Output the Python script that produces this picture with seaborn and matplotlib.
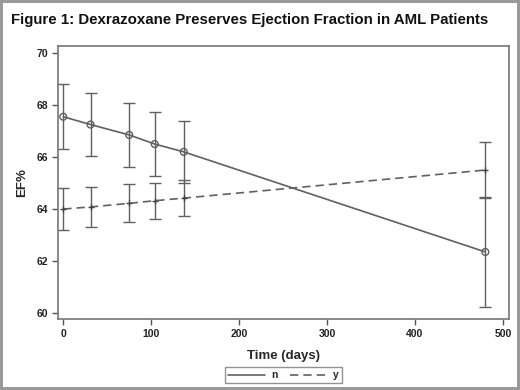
import matplotlib
matplotlib.use("Agg")
import matplotlib.pyplot as plt
import seaborn as sns
import pandas as pd
from matplotlib.lines import Line2D

sns.set_style("white")
plt.rcParams['font.family'] = ['Liberation Sans', 'DejaVu Sans']

days = [0, 31, 75, 104, 137, 480]
ef_n = [67.55, 67.25, 66.85, 66.5, 66.2, 62.35]
err_n = [1.25, 1.22, 1.22, 1.22, 1.2, 2.1]
ef_y = [64.0, 64.08, 64.22, 64.32, 64.42, 65.5]
err_y = [0.8, 0.77, 0.73, 0.7, 0.68, 1.08]
groups = ["n", "y"]

df = pd.DataFrame({
    "Time (days)": days * 2,
    "EF%": ef_n + ef_y,
    "err": err_n + err_y,
    "group": [groups[0]] * len(days) + [groups[1]] * len(days),
})

col = "#606060"
fig = plt.figure(figsize=(5.2, 3.9), dpi=100)
fig.patch.set_edgecolor("#9a9a9a")
fig.patch.set_linewidth(3)
ax = fig.add_axes([0.1115, 0.182, 0.8675, 0.7])

sns.lineplot(data=df, x="Time (days)", y="EF%", style="group",
             dashes={"n": "", "y": (5, 3)}, color=col, lw=1.2,
             legend=False, ax=ax)

for g, mk in zip(groups, ["o", "+"]):
    sub = df[df.group == g]
    ax.errorbar(sub["Time (days)"], sub["EF%"], yerr=sub["err"], fmt="none",
                ecolor=col, elinewidth=1.0, capsize=4, capthick=1.0)
    if mk == "o":
        ax.scatter(sub["Time (days)"], sub["EF%"], marker="o", s=24,
                   facecolors="none", edgecolors=col, linewidths=1.0, zorder=5)
    else:
        ax.scatter(sub["Time (days)"], sub["EF%"], marker="+", s=22,
                   color="#444444", linewidths=1.0, zorder=5)

ax.set_xlim(-6, 507)
ax.set_ylim(59.77, 70.27)
ax.set_xticks([0, 100, 200, 300, 400, 500])
ax.set_yticks([60, 62, 64, 66, 68, 70])
ax.tick_params(axis="both", direction="out", length=4, width=1, color="#555555",
               labelsize=7.5, pad=3, bottom=True, left=True)
for lab in ax.get_xticklabels() + ax.get_yticklabels():
    lab.set_fontweight("bold")
    lab.set_color("#222222")
for s in ax.spines.values():
    s.set_color("#777777")
    s.set_linewidth(1.2)

ax.set_xlabel("Time (days)", fontsize=9.5, fontweight="bold", labelpad=8)
ax.set_ylabel("EF%", fontsize=9.5, fontweight="bold", labelpad=6)

fig.text(0.022, 0.948, "Figure 1: Dexrazoxane Preserves Ejection Fraction in AML Patients",
         fontsize=10.8, fontweight="bold", ha="left", va="center", color="#111111")

handles = [Line2D([], [], color=col, lw=1.2, ls="-"),
           Line2D([], [], color=col, lw=1.2, ls=(0, (5, 3)))]
leg = fig.legend(handles, groups, loc="center", bbox_to_anchor=(0.545, 0.038), ncol=2,
                 fontsize=7.5, frameon=True, fancybox=False, edgecolor="#777777",
                 handlelength=3.5, columnspacing=1.2, handletextpad=0.6,
                 borderpad=0.3)
for t in leg.get_texts():
    t.set_fontweight("bold")
leg.get_frame().set_linewidth(1.0)

fig.savefig("out.png", dpi=100, edgecolor=fig.get_edgecolor())
